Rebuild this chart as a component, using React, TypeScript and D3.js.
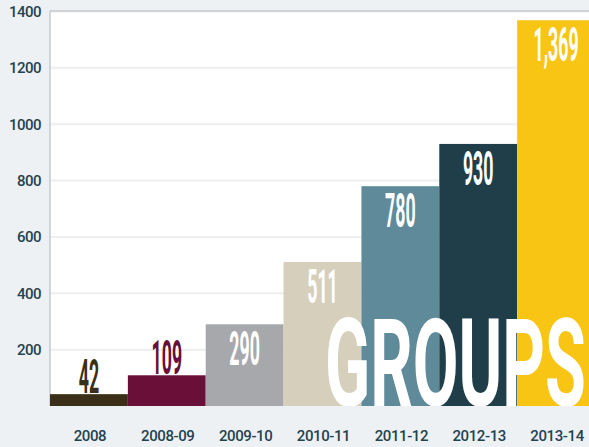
import React from "react";
import * as d3 from "d3";

const categories = ["2008", "2008-09", "2009-10", "2010-11", "2011-12", "2012-13", "2013-14"];
const values = [42, 109, 290, 511, 780, 930, 1369];
const valueLabels = ["42", "109", "290", "511", "780", "930", "1,369"];
const barColors = ["#3b2f17", "#6a0f38", "#a7a8ac", "#d6cfbc", "#5e8a9a", "#1f3e4a", "#f8c515"];
const yTicks = [200, 400, 600, 800, 1000, 1200, 1400];
const yTickLabels = ["200", "400", "600", "800", "1000", "1200", "1400"];
const bigWord = "GROUPS";

const W = 589;
const H = 447;
const left = 50;
const top = 11;
const bottom = 406;

export default function App() {
  const x = d3.scaleBand<string>().domain(categories).range([left, 595]).padding(0);
  const y = d3.scaleLinear().domain([0, 1400]).range([bottom, top + 0.5]);
  const textColor = "#24434f";
  const labelFont = "Roboto, 'Noto Sans', sans-serif";
  return (
    <svg width={W} height={H} style={{ position: "absolute", left: 0, top: 0 }}>
      <rect x={0} y={0} width={W} height={H} fill="#edf1f4" />
      <rect x={left} y={top} width={W - left} height={bottom - top} fill="#ffffff" />
      {yTicks.map((t) => (
        <line key={"g" + t} x1={left} x2={W} y1={y(t)} y2={y(t)} stroke="#eceef0" strokeWidth={2} />
      ))}
      <line x1={left} x2={W} y1={top} y2={top} stroke="#c6cacd" strokeWidth={1.5} />
      <line x1={left} x2={left} y1={top} y2={bottom} stroke="#c6cacd" strokeWidth={1.5} />
      {categories.map((c, i) => {
        const bx = x(c)!;
        const bw = x.bandwidth();
        const by = y(values[i]);
        return <rect key={"b" + c} x={bx} y={by} width={bw} height={bottom - by} fill={barColors[i]} />;
      })}
      {categories.map((c, i) => {
        const cx = x(c)! + x.bandwidth() / 2;
        const by = y(values[i]);
        const outside = bottom - by < 45;
        const baseline = outside ? by - 1 : by + 41;
        return (
          <text
            key={"v" + c}
            transform={`translate(${cx},${baseline}) scale(0.37,1)`}
            textAnchor="middle"
            fontFamily={labelFont}
            fontWeight={700}
            fontSize={48}
            fill={outside ? barColors[i] : "#ffffff"}
          >
            {valueLabels[i]}
          </text>
        );
      })}
      <text
        x={325}
        y={bottom}
        fontFamily={labelFont}
        fontWeight={700}
        fontSize={122}
        fill="#ffffff"
        textLength={261}
        lengthAdjust="spacingAndGlyphs"
      >
        {bigWord}
      </text>
      <rect x={0} y={bottom} width={W} height={H - bottom} fill="#edf1f4" />
      {yTicks.map((t, i) => (
        <text
          key={"yl" + t}
          x={41}
          y={y(t)}
          dy="0.36em"
          textAnchor="end"
          fontFamily={labelFont}
          fontWeight={500}
          fontSize={15}
          letterSpacing={-0.5}
          fill={textColor}
        >
          {yTickLabels[i]}
        </text>
      ))}
      {categories.map((c) => (
        <text
          key={"xl" + c}
          x={x(c)! + x.bandwidth() / 2 + 1}
          y={441}
          textAnchor="middle"
          fontFamily={labelFont}
          fontWeight={500}
          fontSize={15}
          letterSpacing={-0.4}
          fill={textColor}
        >
          {c}
        </text>
      ))}
    </svg>
  );
}
